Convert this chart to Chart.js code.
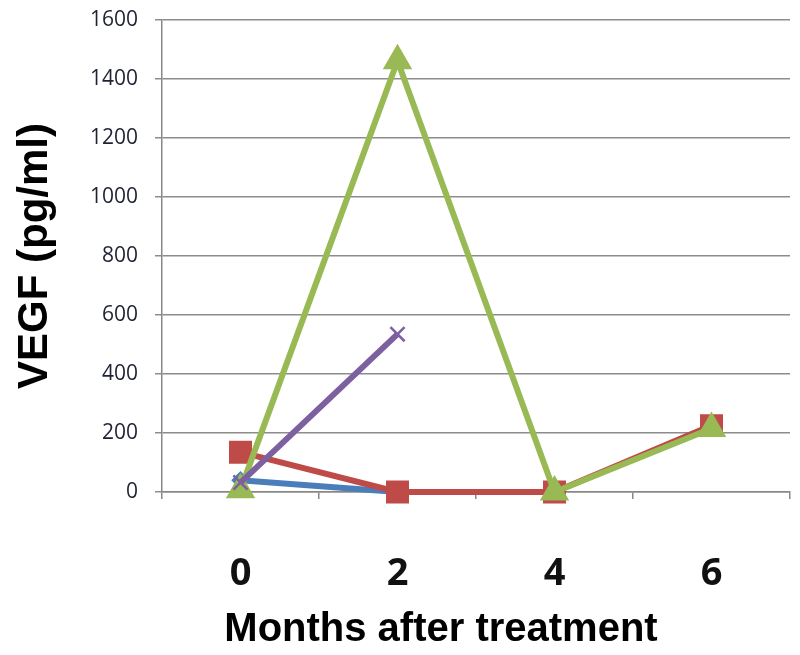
<!DOCTYPE html>
<html>
<head>
<meta charset="utf-8">
<script src="https://cdn.jsdelivr.net/npm/chart.js@4/dist/chart.umd.min.js"></script>
<style>
html,body{margin:0;padding:0;background:#fff;}
#wrap{width:800px;height:655px;}
</style>
</head>
<body>
<div id="wrap"><canvas id="c" width="800" height="655"></canvas></div>
<script>
const categories = ["0", "2", "4", "6"];
const seriesBlue = [40, 0, null, null];
const seriesRed = [135, 0, 0, 225];
const seriesGreen = [8, 1462, 0, 215];
const seriesPurple = [32, 535, null, null];
const yTicks = [0, 200, 400, 600, 800, 1000, 1200, 1400, 1600];
const xTitle = 'Months after treatment';

const xTitlePlugin = {
  id: 'xTitlePlugin',
  afterDraw(chart) {
    const ctx = chart.ctx;
    ctx.save();
    ctx.font = 'bold 40px "Liberation Sans"';
    ctx.fillStyle = '#000';
    ctx.textAlign = 'center';
    ctx.textBaseline = 'middle';
    ctx.fillText(xTitle, 441, 630);
    ctx.restore();
  }
};

new Chart(document.getElementById('c'), {
  type: 'line',
  data: {
    labels: categories,
    datasets: [
      {data: seriesBlue, borderColor: '#4A7EBB', backgroundColor: '#4A7EBB', borderWidth: 6, pointStyle: 'rectRot', pointRadius: 5, order: 4, clip: false},
      {data: seriesRed, borderColor: '#BE4B48', backgroundColor: '#BE4B48', borderWidth: 6, pointStyle: 'rect', pointRadius: 12, order: 3, clip: false},
      {data: seriesGreen, borderColor: '#98B954', backgroundColor: '#98B954', borderWidth: 6, pointStyle: 'triangle', pointRadius: 11, order: 2, clip: false},
      {data: seriesPurple, borderColor: '#7D60A0', backgroundColor: '#7D60A0', borderWidth: 6, pointStyle: 'crossRot', pointRadius: 10, pointBorderWidth: 2.5, order: 1, clip: false}
    ]
  },
  plugins: [xTitlePlugin],
  options: {
    responsive: false,
    animation: false,
    layout: {autoPadding: false, padding: {top: 20, right: 10, left: 10, bottom: 0}},
    plugins: {legend: {display: false}, tooltip: {enabled: false}},
    scales: {
      x: {
        offset: true,
        afterFit: (s) => { s.height = 163; },
        grid: {display: true, offset: true, drawOnChartArea: false, drawTicks: true, tickLength: 7, color: '#888', lineWidth: 1.5},
        border: {display: true, color: '#888', width: 1.5},
        ticks: {font: {family: 'Open Sans', size: 38, weight: 'bold'}, color: '#111', padding: 52},
        title: {display: false}
      },
      y: {
        min: 0, max: 1600,
        afterFit: (s) => { s.width = 152; s.paddingTop = 0; s.paddingBottom = 0; },
        afterBuildTicks: (s) => { s.ticks = yTicks.map(v => ({value: v})); },
        grid: {color: '#8c8c8c', lineWidth: 1.5, tickLength: 7},
        border: {display: true, color: '#888', width: 1.5},
        ticks: {font: {family: 'Open Sans', size: 21}, color: '#1f2233', padding: 17, callback: (v) => String(v)},
        title: {display: true, text: 'VEGF (pg/ml)', font: {family: 'Liberation Sans', size: 42, weight: 'bold'}, color: '#000', padding: {top: 0, bottom: 0}}
      }
    }
  }
});
</script>
</body>
</html>
